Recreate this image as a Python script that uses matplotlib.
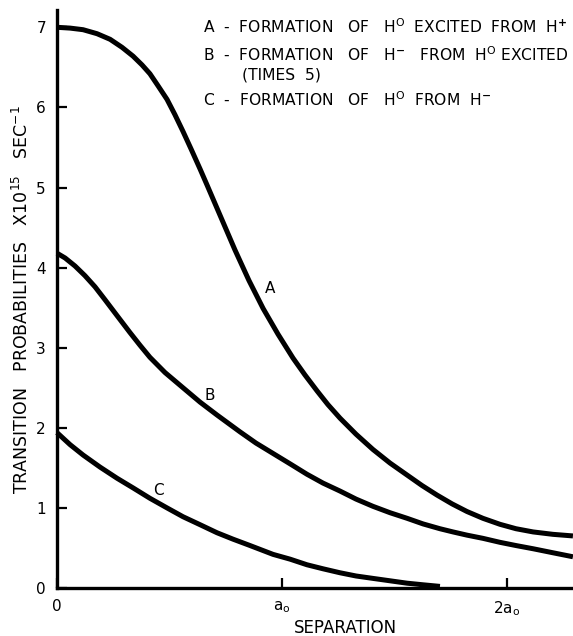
import matplotlib
matplotlib.use("Agg")
import matplotlib.pyplot as plt

# Separation in units of a0, transition probability in units of 1e15 /s
sep_a = [0.000, 0.058, 0.116, 0.178, 0.236, 0.289, 0.338, 0.378, 0.413, 0.449,
         0.489, 0.524, 0.560, 0.596, 0.636, 0.667, 0.693, 0.742, 0.791, 0.853,
         0.916, 0.982, 1.049, 1.102, 1.156, 1.204, 1.258, 1.329, 1.404, 1.480,
         1.556, 1.622, 1.689, 1.756, 1.822, 1.893, 1.969, 2.040, 2.116, 2.204,
         2.293]
prob_a = [7.00, 6.99, 6.97, 6.92, 6.85, 6.75, 6.64, 6.53, 6.42, 6.27,
          6.10, 5.91, 5.70, 5.48, 5.23, 5.03, 4.86, 4.54, 4.22, 3.84,
          3.49, 3.17, 2.87, 2.66, 2.46, 2.29, 2.12, 1.92, 1.73, 1.56,
          1.41, 1.28, 1.16, 1.05, 0.955, 0.87, 0.795, 0.74, 0.70, 0.67,
          0.65]

sep_b = [0.000, 0.036, 0.080, 0.124, 0.169, 0.213, 0.267, 0.324, 0.369, 0.413,
         0.480, 0.560, 0.636, 0.711, 0.813, 0.884, 0.960, 1.036, 1.111, 1.182,
         1.258, 1.329, 1.404, 1.480, 1.556, 1.627, 1.702, 1.760, 1.822, 1.893,
         1.969, 2.040, 2.116, 2.204, 2.293]
prob_b = [4.18, 4.12, 4.02, 3.90, 3.76, 3.60, 3.40, 3.19, 3.03, 2.88,
          2.69, 2.50, 2.32, 2.16, 1.95, 1.81, 1.68, 1.55, 1.42, 1.31,
          1.21, 1.11, 1.02, 0.94, 0.87, 0.80, 0.74, 0.70, 0.66, 0.62,
          0.57, 0.53, 0.49, 0.44, 0.39]

sep_c = [0.000, 0.058, 0.116, 0.191, 0.267, 0.338, 0.413, 0.489, 0.560, 0.636,
         0.711, 0.782, 0.858, 0.960, 1.036, 1.111, 1.182, 1.258, 1.329, 1.404,
         1.480, 1.556, 1.627, 1.702]
prob_c = [1.94, 1.79, 1.66, 1.51, 1.37, 1.25, 1.12, 1.00, 0.89, 0.79,
          0.69, 0.61, 0.53, 0.42, 0.36, 0.29, 0.24, 0.19, 0.15, 0.12,
          0.09, 0.06, 0.04, 0.02]

y_ticks = [0, 1, 2, 3, 4, 5, 6, 7]
y_ticklabels = ["0", "1", "2", "3", "4", "5", "6", "7"]
x_ticks = [0, 1, 2]
x_ticklabels = ["0", r"a$_\mathrm{o}$", r"2a$_\mathrm{o}$"]

legend_lines = [
    r"A  -  FORMATION   OF   H$^\mathrm{O}$  EXCITED  FROM  H$^\mathbf{+}$",
    r"B  -  FORMATION   OF   H$^\mathbf{-}$   FROM  H$^\mathrm{O}$ EXCITED",
    r"        (TIMES  5)",
    r"C  -  FORMATION   OF   H$^\mathrm{O}$  FROM  H$^\mathbf{-}$",
]

W, H = 573, 636
PX_X = 225.0   # pixels per a0
PX_Y = 80.1    # pixels per unit
fig = plt.figure(figsize=(W / 100, H / 100), dpi=100)
ax = fig.add_axes([57 / W, 48 / H, 516 / W, 578 / H])

lw = 3.6
for xs, ys in [(sep_a, prob_a), (sep_b, prob_b), (sep_c, prob_c)]:
    ax.plot(xs, ys, color="black", lw=lw, solid_capstyle="butt",
            solid_joinstyle="round", clip_on=False)

ax.set_xlim(0, 516 / PX_X)
ax.set_ylim(0, 578 / PX_Y)

for s in ["top", "right"]:
    ax.spines[s].set_visible(False)
for s in ["left", "bottom"]:
    ax.spines[s].set_linewidth(2.4)
    ax.spines[s].set_color("black")

ax.set_yticks(y_ticks)
ax.set_yticklabels(y_ticklabels, fontsize=11)
ax.set_xticks(x_ticks)
ax.set_xticklabels(x_ticklabels, fontsize=11)
ax.tick_params(axis="y", direction="in", length=7, width=1.6, pad=8)
ax.tick_params(axis="x", direction="in", length=7, width=1.6, pad=8)

fig.text(22 / W, 1 - 300 / H,
         r"TRANSITION   PROBABILITIES   X10$^{\mathrm{15}}$   SEC$^{\mathrm{-1}}$",
         rotation=90, ha="center", va="center", fontsize=12.5)
fig.text(345 / W, 1 - 628 / H, "SEPARATION", ha="center", va="center", fontsize=12)

ys_txt = [27, 55, 75, 100]
for txt, yy in zip(legend_lines, ys_txt):
    fig.text(203 / W, 1 - yy / H, txt, ha="left", va="center", fontsize=11.2)

ax.annotate("A", xy=(0.947, 3.74), fontsize=11, ha="center", va="center")
ax.annotate("B", xy=(0.68, 2.40), fontsize=11, ha="center", va="center")
ax.annotate("C", xy=(0.449, 1.22), fontsize=11, ha="center", va="center")

fig.savefig("out.png", dpi=100)
